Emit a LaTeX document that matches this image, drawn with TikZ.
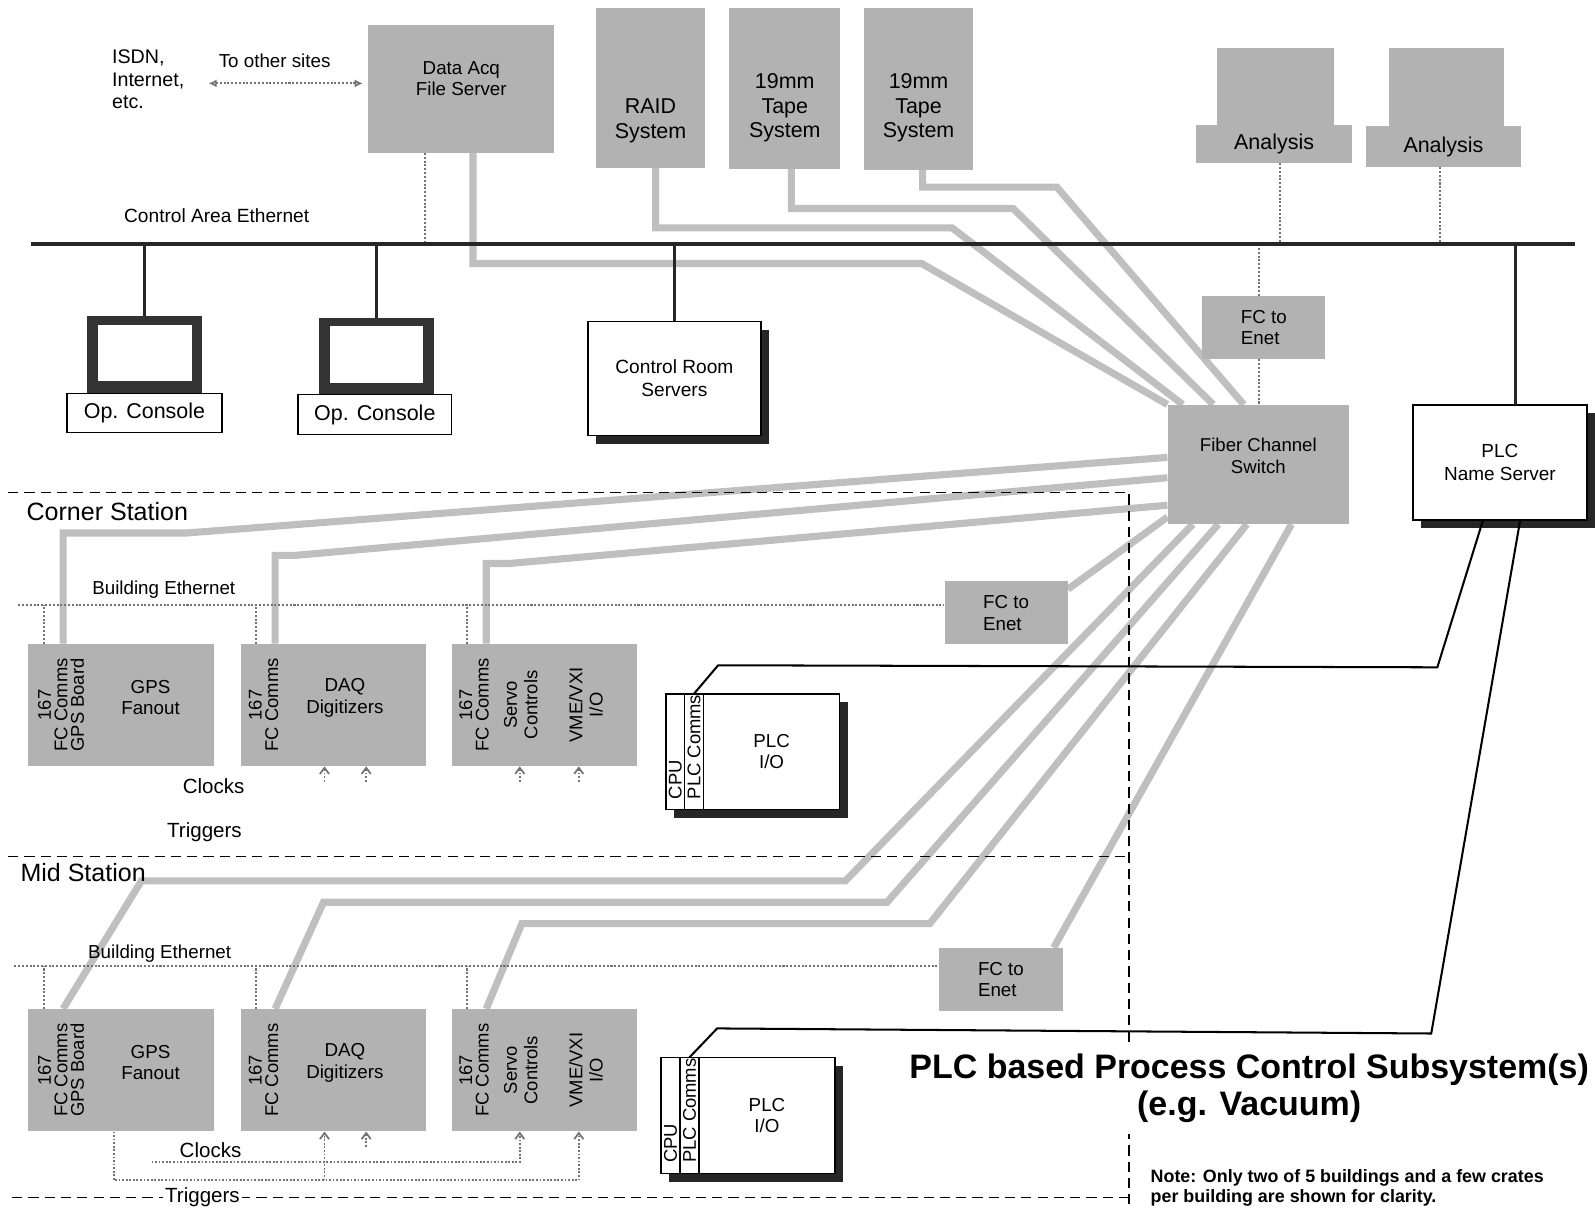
\documentclass[tikz,border=0pt]{standalone}
\usepackage{fontspec}
\setmainfont{Liberation Sans}
\usetikzlibrary{arrows.meta, positioning, shadows}
\newcommand\fsz[2]{\fontsize{#1}{#2}\selectfont}
\pgfdeclarelayer{bg}
\pgfsetlayers{bg,main}

\begin{document}
\begin{tikzpicture}[
    x=0.2mm, y=-0.2mm,
    font=\fsz{10.5}{12},
    gbox/.style={rectangle, draw=none, fill=black!30, inner sep=0pt, align=center},
    crate/.style={gbox, minimum width=36.4mm, minimum height=24mm},
    fcbox/.style={gbox, minimum width=24.2mm, minimum height=12.4mm, align=left},
    wbox/.style={rectangle, draw=black, line width=0.3mm, fill=white, inner sep=0pt, outer sep=0pt, align=center},
    sbox/.style={wbox, drop shadow={shadow xshift=1.6mm, shadow yshift=-1.6mm, fill=black!85, opacity=1}},
    strip/.style={sbox, minimum width=3.7mm, minimum height=22.8mm},
    screen/.style={rectangle, fill=black!80, minimum width=22.6mm, minimum height=15mm},
    glass/.style={rectangle, fill=white, minimum width=18.4mm, minimum height=11.2mm},
    vtext/.style={rotate=90, align=center, inner sep=0pt, font=\fsz{10.3}{9.2}},
    fiber/.style={line width=1.4mm, black!25},
    eth/.style={densely dotted, line width=0.4mm, black!55},
    bus/.style={line width=0.8mm, black!85},
    ethdrop/.style={line width=0.6mm, black!85},
    plcline/.style={line width=0.4mm, black},
    region/.style={dash pattern=on 2mm off 1.2mm, line width=0.3mm},
    clk/.style={densely dotted, line width=0.35mm, black!55, -{Straight Barb[length=1.2mm, width=1.8mm]}}
  ]
  \useasboundingbox (0,0) rectangle (1568,1189);

  \draw[region] (8,484) -- (1110,484) -- (1110,1189);
  \draw[region] (8,842) -- (1110,842);
  \draw[region] (12,1177) -- (1110,1177);

  % control room
  \node[anchor=west, align=left, font=\fsz{11}{12.8}] (isdn) at (104,78) {ISDN,\\Internet,\\etc.};
  \node (sites) at (270,60) {To other sites};
  \node[gbox, minimum width=36.6mm, minimum height=25mm] (daq) at (453.5,87.5) {};
  \node[align=center] (daqt) at ([yshift=2mm]daq.center) {Data Acq\\File Server};
  \node[gbox, minimum width=21.4mm, minimum height=31.4mm] (raid) at (639.5,86.5) {};
  \node[align=center, font=\fsz{12}{13.7}] (raidt) at ([yshift=-6.5mm]raid.center) {RAID\\System};
  \node[gbox, minimum width=21.8mm, minimum height=31.6mm] (tape1) at (771.5,87) {};
  \node[align=center, font=\fsz{12}{13.7}] (tape1t) at ([yshift=-3.8mm]tape1.center) {19mm\\Tape\\System};
  \node[gbox, minimum width=21.6mm, minimum height=31.8mm] (tape2) at (903,87.5) {};
  \node[align=center, font=\fsz{12}{13.7}] (tape2t) at ([yshift=-3.7mm]tape2.center) {19mm\\Tape\\System};
  \node[gbox, minimum width=23mm, minimum height=15.2mm] (an1m) at (1253.5,85) {};
  \node[gbox, minimum width=30.6mm, minimum height=7.4mm, font=\fsz{12}{14}] (an1) at (1252.5,141.5) {Analysis};
  \node[gbox, minimum width=22.8mm, minimum height=15.4mm] (an2m) at (1422,85.5) {};
  \node[gbox, minimum width=30.4mm, minimum height=8mm, font=\fsz{12}{14}] (an2) at (1419,144) {Analysis};

  \coordinate (ethW) at (30,240);
  \coordinate (ethE) at (1548,240);
  \node[font=\fsz{10.7}{12}] (ethl) at (213,212) {Control Area Ethernet};
  \coordinate (net) at (205,82);

  \node[screen] (oc1m) at (142.5,348.5) {};
  \node[glass] (oc1s) at ([yshift=0.3mm]oc1m.center) {};
  \node[wbox, minimum width=30.4mm, minimum height=7.6mm, font=\fsz{12}{14}] (oc1) at (142,406) {Op. Console};
  \node[screen] (oc2m) at (370,350) {};
  \node[glass] (oc2s) at ([yshift=0.3mm]oc2m.center) {};
  \node[wbox, minimum width=30.2mm, minimum height=7.8mm, font=\fsz{12}{14}] (oc2) at (368.5,407.5) {Op. Console};
  \node[sbox, minimum width=34mm, minimum height=22.4mm, font=\fsz{10.7}{13}] (crs) at (663,372) {Control Room\\Servers};

  \node[fcbox] (fce1) at (1242.5,322) {FC to\\Enet};
  \node[gbox, minimum width=35.6mm, minimum height=23.4mm] (sw) at (1237,456.5) {};
  \node[align=center, font=\fsz{10.4}{12.5}] (swt) at ([yshift=1.7mm]sw.center) {Fiber Channel\\Switch};
  \node[sbox, minimum width=34.2mm, minimum height=22.6mm, font=\fsz{10.6}{12.5}] (plcns) at (1474.5,454.5) {PLC\\Name Server};

  % corner station
  \node[anchor=west, font=\fsz{14}{16}] (corner) at (20,503) {Corner Station};
  \node (be1l) at (161,580) {Building Ethernet};
  \coordinate (be1) at (18,595);
  \node[crate] (c1) at (119,693) {};
  \node[vtext] (c1v) at ([xshift=-11.8mm]c1.center) {167\\FC Comms\\GPS Board};
  \node[align=center] (c1t) at ([xshift=5.8mm,yshift=1.5mm]c1.center) {GPS\\Fanout};
  \node[crate] (c2) at (327.5,693) {};
  \node[vtext] (c2v) at ([xshift=-13.7mm]c2.center) {167\\FC Comms};
  \node[align=center] (c2t) at ([xshift=2.3mm,yshift=1.4mm]c2.center) {DAQ\\Digitizers};
  \node[crate] (c3) at (535,693) {};
  \node[vtext] (c3v) at ([xshift=-13.8mm]c3.center) {167\\FC Comms};
  \node[vtext, font=\fsz{10.3}{11.4}] (c3s) at ([xshift=-4.6mm]c3.center) {Servo\\Controls};
  \node[vtext, font=\fsz{10.3}{11.4}] (c3i) at ([xshift=8.2mm]c3.center) {VME/VXI\\I/O};
  \node[fcbox] (fce2) at (989,602.5) {FC to\\Enet};
  \node[font=\fsz{11.5}{13}] (clk1) at (210,773) {Clocks};
  \node[font=\fsz{11.5}{13}] (trg1) at (201,818) {Triggers};
  \node[strip] (cpu1) at (663.75,739) {};
  \node[strip, right=0pt of cpu1] (com1) {};
  \node[sbox, minimum width=26.8mm, minimum height=22.8mm, right=0pt of com1] (io1) {PLC\\I/O};
  \node[vtext, anchor=west] (cpu1t) at ([yshift=2mm]cpu1.south) {CPU};
  \node[vtext, anchor=west] (com1t) at ([yshift=2mm]com1.south) {PLC Comms};

  % mid station
  \node[anchor=west, font=\fsz{14}{16}] (mid) at (14,858) {Mid Station};
  \node (be2l) at (157,937) {Building Ethernet};
  \coordinate (be2) at (14,950);
  \node[crate] (m1) at (119,1052) {};
  \node[vtext] (m1v) at ([xshift=-11.8mm]m1.center) {167\\FC Comms\\GPS Board};
  \node[align=center] (m1t) at ([xshift=5.8mm,yshift=1.5mm]m1.center) {GPS\\Fanout};
  \node[crate] (m2) at (327.5,1052) {};
  \node[vtext] (m2v) at ([xshift=-13.7mm]m2.center) {167\\FC Comms};
  \node[align=center] (m2t) at ([xshift=2.3mm,yshift=1.4mm]m2.center) {DAQ\\Digitizers};
  \node[crate] (m3) at (535,1052) {};
  \node[vtext] (m3v) at ([xshift=-13.8mm]m3.center) {167\\FC Comms};
  \node[vtext, font=\fsz{10.3}{11.4}] (m3s) at ([xshift=-4.6mm]m3.center) {Servo\\Controls};
  \node[vtext, font=\fsz{10.3}{11.4}] (m3i) at ([xshift=8.2mm]m3.center) {VME/VXI\\I/O};
  \node[fcbox] (fce3) at (984,963) {FC to\\Enet};
  \node[font=\fsz{11.5}{13}] (clk2) at (207,1131) {Clocks};
  \node[font=\fsz{11.5}{13}, fill=white, inner sep=1pt] (trg2) at (199,1177) {Triggers};
  \node[strip] (cpu2) at (659.25,1096.5) {};
  \node[strip, right=0pt of cpu2] (com2) {};
  \node[sbox, minimum width=26.8mm, minimum height=22.8mm, right=0pt of com2] (io2) {PLC\\I/O};
  \node[vtext, anchor=west] (cpu2t) at ([yshift=2mm]cpu2.south) {CPU};
  \node[vtext, anchor=west] (com2t) at ([yshift=2mm]com2.south) {PLC Comms};

  \node[font=\fsz{19}{21}\bfseries, align=center, fill=white, inner xsep=1pt, inner ysep=2.2mm] (title) at (1228,1070) {PLC based Process Control Subsystem(s)\\(e.g. Vacuum)};
  \node[anchor=west, align=left, font=\fsz{10}{11.4}\bfseries] (note) at (1125,1168) {Note: Only two of 5 buildings and a few crates\\per building are shown for clarity.};

  % fibre channel
  \begin{pgfonlayer}{bg}
    \draw[fiber] ([xshift=2.3mm]daq.south) |- (906,259) -- (sw.north west);
    \draw[fiber] ([xshift=1mm]raid.south) |- (936,224) -- ([xshift=3mm]sw.north west);
    \draw[fiber] ([xshift=1.3mm]tape1.south) |- (996,205) -- ([xshift=9mm]sw.north west);
    \draw[fiber] ([xshift=0.8mm]tape2.south) |- (1039,184) -- ([xshift=15mm]sw.north west);
    \draw[fiber] ([xshift=-11.4mm]c1.north) |- (183,524) -- ([yshift=-10.4mm]sw.north west);
    \draw[fiber] ([xshift=-11.4mm]c2.north) |- (290,546) -- ([yshift=-14.4mm]sw.north west);
    \draw[fiber] ([xshift=-11.4mm]c3.north) |- (500,554) -- ([yshift=-19.8mm]sw.north west);
    \draw[fiber] ([yshift=-1.6mm]fce2.north east) -- ([yshift=1.4mm]sw.south west);
    \draw[fiber] ([xshift=-11.4mm]m1.north) -- (139,866) -- (831,866) -- ([xshift=5mm]sw.south west);
    \draw[fiber] ([xshift=-11.4mm]m2.north) -- (318,887) -- (872,887) -- ([xshift=10mm]sw.south west);
    \draw[fiber] ([xshift=-11.4mm]m3.north) -- (513,908) -- (914,908) -- ([xshift=15.6mm]sw.south west);
    \draw[fiber] ([xshift=-1.8mm]fce3.north east) -- ([xshift=24.4mm]sw.south west);
  \end{pgfonlayer}

  % ethernet
  \draw[eth, {Latex[open,length=1.6mm,width=1.6mm]}-{Latex[open,length=1.6mm,width=1.6mm]}, shorten >=1mm] (net) -- (net -| daq.west);
  \coordinate (daqE) at ([xshift=-7.1mm]daq.south);
  \draw[eth] (daqE) -- (daqE |- ethW);
  \coordinate (an1E) at ([xshift=1.1mm]an1.south);
  \draw[eth] (an1E) -- (an1E |- ethW);
  \coordinate (an2E) at ([xshift=-0.6mm]an2.south);
  \draw[eth] (an2E) -- (an2E |- ethW);
  \coordinate (fceN) at ([xshift=-0.9mm]fce1.north);
  \draw[eth] (fceN |- ethW) -- (fceN);
  \coordinate (fceS) at ([xshift=-0.9mm]fce1.south);
  \draw[eth] (fceS) -- (fceS |- sw.north);
  \draw[ethdrop] (oc1m.north) -- (oc1m.north |- ethW);
  \draw[ethdrop] (oc2m.north) -- (oc2m.north |- ethW);
  \draw[ethdrop] (crs.north) -- (crs.north |- ethW);
  \coordinate (nsE) at ([xshift=3.1mm]plcns.north);
  \draw[ethdrop] (nsE) -- (nsE |- ethW);
  \draw[bus] (ethW) -- (ethE);

  \draw[eth] (be1) -- (be1 -| fce2.west);
  \draw[eth] ([xshift=-15.1mm]c1.north) -- ++(0,-38);
  \draw[eth] ([xshift=-15.1mm]c2.north) -- ++(0,-38);
  \draw[eth] ([xshift=-15.1mm]c3.north) -- ++(0,-38);
  \draw[eth] (be2) -- (be2 -| fce3.west);
  \draw[eth] ([xshift=-15.1mm]m1.north) -- ++(0,-42);
  \draw[eth] ([xshift=-15.1mm]m2.north) -- ++(0,-42);
  \draw[eth] ([xshift=-15.1mm]m3.north) -- ++(0,-42);

  % clocks and triggers
  \draw[clk] ([xshift=-1.7mm,yshift=-3mm]c2.south) -- ([xshift=-1.7mm]c2.south);
  \draw[clk] ([xshift=6.5mm,yshift=-3mm]c2.south) -- ([xshift=6.5mm]c2.south);
  \draw[clk] ([xshift=-4.8mm,yshift=-3mm]c3.south) -- ([xshift=-4.8mm]c3.south);
  \draw[clk] ([xshift=6.8mm,yshift=-3mm]c3.south) -- ([xshift=6.8mm]c3.south);
  \draw[clk] ([xshift=-1.4mm]m1.south) -- ++(0,48) -| ([xshift=6.8mm]m3.south);
  \draw[clk] ([xshift=-1.7mm,yshift=-9.6mm]m2.south) -- ([xshift=-1.7mm]m2.south);
  \draw[clk] ([xshift=6mm,yshift=-6mm]m1.south) -| ([xshift=-4.8mm]m3.south);
  \draw[clk] ([xshift=6.5mm,yshift=-3mm]m2.south) -- ([xshift=6.5mm]m2.south);

  % plc network
  \draw[plcline] (com1.north) -- (706,654) -- (1413,656) -- ([xshift=-3.3mm]plcns.south);
  \draw[plcline] (com2.north) -- (705,1011) -- (1407,1016) -- ([xshift=4mm]plcns.south);
\end{tikzpicture}
\end{document}
